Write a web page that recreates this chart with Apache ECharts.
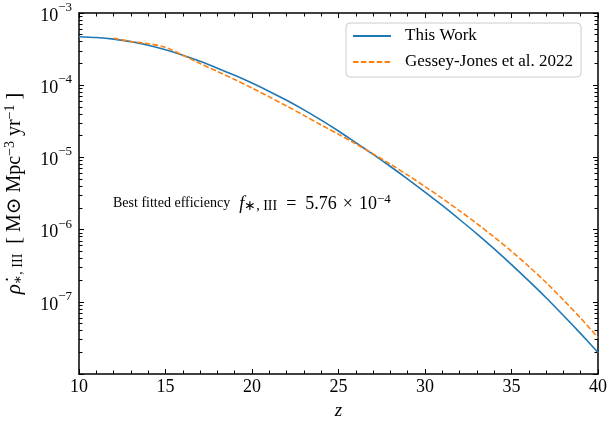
<!DOCTYPE html>
<html>
<head>
<meta charset="utf-8">
<script src="https://cdn.jsdelivr.net/npm/echarts@6/dist/echarts.min.js"></script>
<style>
html,body{margin:0;padding:0;background:#fff;}
#c{width:609px;height:426px;}
</style>
</head>
<body>
<div id="c"></div>
<script>
// ---- data ----
var zThisWork = [10,11,12,13,14,15,16,17,18,19,20,21,22,23,24,25,26,27,28,29,30,31,32,33,34,35,36,37,38,39,40];
var rhoThisWork = [4.70e-4,4.57e-4,4.35e-4,4.01e-4,3.57e-4,3.09e-4,2.60e-4,2.14e-4,1.72e-4,1.37e-4,
  1.07e-4,8.20e-5,6.18e-5,4.55e-5,3.28e-5,2.32e-5,1.60e-5,1.10e-5,7.48e-6,5.01e-6,
  3.31e-6,2.16e-6,1.38e-6,8.73e-7,5.41e-7,3.28e-7,1.95e-7,1.14e-7,6.47e-8,3.62e-8,1.99e-8];
var zGJ = [12,13,14,15,16,17,18,19,20,21,22,23,24,25,26,27,28,29,30,31,32,33,34,35,36,37,38,39,40];
var rhoGJ = [4.47e-4,4.03e-4,3.76e-4,3.35e-4,2.60e-4,2.00e-4,1.55e-4,1.20e-4,9.12e-5,6.89e-5,
  5.15e-5,3.82e-5,2.81e-5,2.09e-5,1.54e-5,1.12e-5,8.05e-6,5.69e-6,3.95e-6,2.70e-6,
  1.82e-6,1.21e-6,7.89e-7,5.01e-7,3.09e-7,1.85e-7,1.06e-7,5.93e-8,3.20e-8];
var seriesNames = ['This Work', 'Gessey-Jones et al. 2022'];

function pairs(xs, ys) { return xs.map(function (x, i) { return [x, ys[i]]; }); }

var FONT = '"Liberation Serif", "DejaVu Serif", serif';
var FAM = 'Liberation Serif';
var supMap = {'-':'−','0':'0','1':'1','2':'2','3':'3','4':'4','5':'5','6':'6','7':'7','8':'8','9':'9'};

function tickStyle() { return {color: '#000', width: 1}; }
function yAxisCommon(pos) {
  return {
    type: 'log', logBase: 10, min: 1e-8, max: 1e-3, position: pos,
    axisLine: {show: true, onZero: false, lineStyle: {color: '#000', width: 1.5}},
    axisTick: {show: true, inside: true, length: 5, lineStyle: tickStyle()},
    minorTick: {show: true, splitNumber: 9, length: 3.5, lineStyle: tickStyle()},
    splitLine: {show: false},
    minorSplitLine: {show: false}
  };
}

var yLeft = yAxisCommon('left');
yLeft.name = '{r|ρ̇}{sub|∗, III}{t|  [ M⊙ Mpc}{sup|−3}{t| yr}{sup|−1}{t| ]}';
yLeft.nameLocation = 'middle';
yLeft.nameGap = 54;
yLeft.nameRotate = 90;
yLeft.nameTextStyle = {
  fontFamily: FONT, color: '#000',
  rich: {
    r: {fontFamily: FONT, fontSize: 21, fontStyle: 'italic', lineHeight: 22, verticalAlign: 'bottom'},
    t: {fontFamily: FONT, fontSize: 20, lineHeight: 22, verticalAlign: 'bottom'},
    sub: {fontFamily: FONT, fontSize: 14, lineHeight: 15, verticalAlign: 'bottom'},
    sup: {fontFamily: FONT, fontSize: 14, lineHeight: 15, verticalAlign: 'top'}
  }
};
yLeft.axisLabel = {
  margin: 7,
  showMinLabel: false,
  formatter: function (v) {
    var e = Math.round(Math.log10(v));
    var s = String(e).split('').map(function (ch) { return supMap[ch]; }).join('');
    return '{b|10}{s|' + s + '}';
  },
  rich: {
    b: {fontFamily: FONT, fontSize: 18, color: '#000', lineHeight: 24, verticalAlign: 'bottom'},
    s: {fontFamily: FONT, fontSize: 13, color: '#000', lineHeight: 14, verticalAlign: 'top'}
  }
};
var yRight = yAxisCommon('right');
yRight.axisLabel = {show: false};

var chart = echarts.init(document.getElementById('c'), null, {renderer: 'canvas'});
chart.setOption({
  animation: false,
  backgroundColor: '#fff',
  textStyle: {fontFamily: FONT, color: '#000'},
  grid: {left: 79, right: 11, top: 13, bottom: 52, containLabel: false, outerBoundsMode: 'none'},
  legend: {
    orient: 'vertical',
    left: 346, top: 23,
    padding: [3, 8, 5, 6],
    itemWidth: 38, itemHeight: 14, itemGap: 6,
    borderColor: '#cccccc', borderWidth: 1, borderRadius: 4,
    backgroundColor: 'rgba(255,255,255,0.8)',
    itemStyle: {opacity: 0},
    textStyle: {fontFamily: FONT, fontSize: 17, color: '#000', lineHeight: 20, padding: [0, 0, 0, 9]},
    data: seriesNames
  },
  xAxis: [{
    type: 'value', min: 10, max: 40, interval: 5, position: 'bottom',
    name: 'z', nameLocation: 'middle', nameGap: 27,
    nameTextStyle: {fontFamily: FONT, fontSize: 19, fontStyle: 'italic', color: '#000'},
    axisLine: {show: true, onZero: false, lineStyle: {color: '#000', width: 1.5}},
    axisTick: {show: true, inside: true, length: 5, lineStyle: tickStyle()},
    minorTick: {show: true, splitNumber: 5, length: 3.5, lineStyle: tickStyle()},
    axisLabel: {fontFamily: FONT, fontSize: 18, color: '#000', margin: 4},
    splitLine: {show: false},
    minorSplitLine: {show: false}
  }, {
    type: 'value', min: 10, max: 40, interval: 5, position: 'top',
    axisLine: {show: true, onZero: false, lineStyle: {color: '#000', width: 1.5}},
    axisTick: {show: true, inside: true, length: 5, lineStyle: tickStyle()},
    minorTick: {show: true, splitNumber: 5, length: 3.5, lineStyle: tickStyle()},
    axisLabel: {show: false},
    splitLine: {show: false},
    minorSplitLine: {show: false}
  }],
  yAxis: [yLeft, yRight],
  graphic: [{
    type: 'text',
    x: 113, y: 203,
    style: {
      text: 'Best fitted efficiency{i|\u2002f}{sub|∗, III}{n|\u2002=\u20025.76\u2004×\u200410}{sup|−4}',
      fontFamily: FAM, fontSize: 14,
      fill: '#000',
      verticalAlign: 'middle',
      rich: {
        i: {fontFamily: FAM, fontSize: 18, fontStyle: 'italic', lineHeight: 20, verticalAlign: 'bottom'},
        n: {fontFamily: FAM, fontSize: 18, lineHeight: 20, verticalAlign: 'bottom'},
        sub: {fontFamily: FAM, fontSize: 14, lineHeight: 15, verticalAlign: 'bottom'},
        sup: {fontFamily: FAM, fontSize: 13, lineHeight: 12, verticalAlign: 'top'}
      }
    }
  }],
  series: [{
    name: seriesNames[0], type: 'line', xAxisIndex: 0, yAxisIndex: 0,
    data: pairs(zThisWork, rhoThisWork),
    showSymbol: false, symbol: 'none', smooth: 0.3,
    lineStyle: {color: '#1f77b4', width: 1.6},
    itemStyle: {color: '#1f77b4'},
    z: 3
  }, {
    name: seriesNames[1], type: 'line', xAxisIndex: 0, yAxisIndex: 0,
    data: pairs(zGJ, rhoGJ),
    showSymbol: false, symbol: 'none', smooth: 0.3,
    lineStyle: {color: '#ff7f0e', width: 1.6, type: [5.5, 2.4]},
    itemStyle: {color: '#ff7f0e'},
    z: 4
  }]
});
</script>
</body>
</html>
